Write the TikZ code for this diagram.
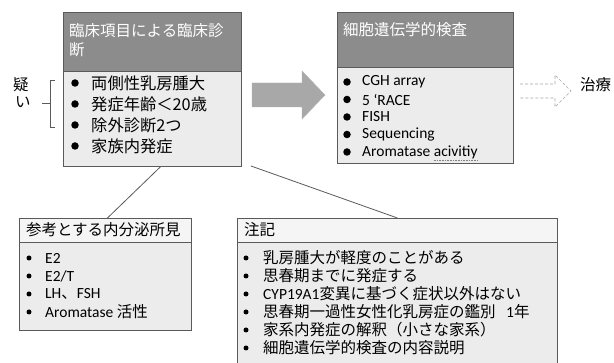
\documentclass[tikz,border=0pt]{standalone}
\usepackage{fontspec}
\setmainfont{Carlito}
\newfontfamily\jp{Noto Sans CJK JP}
\usetikzlibrary{calc}
\definecolor{hdrgray}{RGB}{140,140,140}
\definecolor{bodygray}{RGB}{236,236,236}
\definecolor{lhdr}{RGB}{245,245,245}
\definecolor{linegray}{RGB}{90,90,90}
\definecolor{arrowgray}{RGB}{168,168,168}
\tikzset{
  boxline/.style={draw=linegray, line width=0.8pt},
  darkhead/.style={boxline, fill=hdrgray, anchor=north west, inner sep=0pt},
  lightbody/.style={boxline, fill=bodygray, anchor=north west, inner sep=0pt},
  lighthead/.style={boxline, fill=lhdr, anchor=north west, inner sep=0pt},
  item/.style={anchor=west, inner sep=0pt, font=\fontsize{15.5}{18}\selectfont},
  jpitem/.style={anchor=west, inner sep=0pt, font=\jp\fontsize{15.5}{18}\selectfont},
  bigjp/.style={anchor=west, inner sep=0pt, font=\jp\fontsize{16.3}{18}\selectfont},
  hdrtext/.style={anchor=west, inner sep=0pt, text=white, font=\jp\fontsize{15.5}{18}\selectfont},
  bul/.style={circle, fill=black, inner sep=0pt, minimum size=7.5pt},
  smallbul/.style={circle, fill=black, inner sep=0pt, minimum size=5pt},
  conn/.style={draw=linegray, line width=0.8pt},
}
\begin{document}
\begin{tikzpicture}[x=1pt,y=-1pt]
\useasboundingbox (0,0) rectangle (614,363);
\fill[white] (0,0) rectangle (614,363);

% ---- Box 1: clinical diagnosis
\node[darkhead, minimum width=178pt, minimum height=59pt] (h1) at (63,12) {};
\node[lightbody, minimum width=178pt, minimum height=95pt] (b1) at (63,71) {};
\node[hdrtext] (h1a) at (69,31) {臨床項目による臨床診};
\node[hdrtext] (h1b) at (69,50) {断};
\foreach \t [count=\i from 0] in {両側性乳房腫大,発症年齢＜20歳,除外診断2つ,家族内発症}{
  \node[bul] (b1d\i) at (75,{83+21*\i}) {};
  \node[bigjp] (b1t\i) at (91,{83+21*\i}) {\t};
}
% suspicion bracket
\node[jpitem] (s1) at (13,85) {疑};
\node[jpitem] (s2) at (15,102) {い};
\draw[linegray, line width=0.8pt] (55,80) -- (50,80) -- (50,127) -- (55,127);
\draw[linegray, line width=0.8pt] (50,103) -- (42,103);

% ---- big arrow
\draw[draw=gray!60, fill=arrowgray] (252,83) -- (302,83) -- (302,71) -- (325,95)
  -- (302,119) -- (302,107) -- (252,107) -- cycle;

% ---- Box 2: cytogenetic tests
\node[darkhead, minimum width=176pt, minimum height=55pt] (h2) at (337,12) {};
\node[lightbody, minimum width=176pt, minimum height=96pt] (b2) at (337,67) {};
\node[hdrtext] (h2a) at (343,30) {細胞遺伝学的検査};
\foreach \t [count=\i from 0] in {CGH array,5 ‘RACE,FISH,Sequencing,Aromatase acivitiy}{
  \node[bul] (b2d\i) at (347,{82+17.5*\i}) {};
  \node[item] (b2t\i) at (362,{82+17.5*\i}) {\t};
}
\draw[gray, densely dotted, line width=0.6pt] ($(b2t4.south east)+(-44,1.5)$) -- ($(b2t4.south east)+(0,1.5)$);

% ---- dashed arrow to treatment
\draw[gray!70, densely dashed, line width=0.6pt, fill=white]
  (520,84) -- (555,84) -- (555,75) -- (571,91) -- (555,107) -- (555,98) -- (520,98);
\node[jpitem] (tr) at (580,85) {治療};

% ---- Box 3: endocrine findings
\node[lighthead, minimum width=172pt, minimum height=24pt] (h3) at (19,218) {};
\node[lightbody, minimum width=172pt, minimum height=88pt] (b3) at (19,242) {};
\node[jpitem] (h3a) at (26,230) {参考とする内分泌所見};
\foreach \t [count=\i from 0] in {E2,E2/T,LH{\jp 、}FSH,Aromatase {\jp 活性}}{
  \node[smallbul] (b3d\i) at (29,{258+18*\i}) {};
  \node[item] (b3t\i) at (45,{258+18*\i}) {\t};
}

% ---- Box 4: notes
\node[lighthead, minimum width=320pt, minimum height=24pt] (h4) at (237,218) {};
\node[lightbody, minimum width=320pt, minimum height=130pt] (b4) at (237,242) {};
\node[jpitem] (h4a) at (244,230) {注記};
\foreach \t [count=\i from 0] in {{\jp 乳房腫大が軽度のことがある},{\jp 思春期までに発症する},CYP19A1{\jp 変異に基づく症状以外はない},{\jp 思春期一過性女性化乳房症の鑑別}\ \ \ 1{\jp 年},{\jp 家系内発症の解釈（小さな家系）},{\jp 細胞遺伝学的検査の内容説明}}{
  \node[smallbul] (b4d\i) at (246,{258+18*\i}) {};
  \node[item] (b4t\i) at (263,{258+18*\i}) {\t};
}

% ---- connectors
\coordinate (c2) at (251,166);
\draw[conn] ($(b1.south west)!0.545!(b1.south east)$) -- ($(h3.north west)!0.512!(h3.north east)$);
\draw[conn] (c2) -- ($(h4.north west)!0.5!(h4.north east)$);
\end{tikzpicture}
\end{document}
